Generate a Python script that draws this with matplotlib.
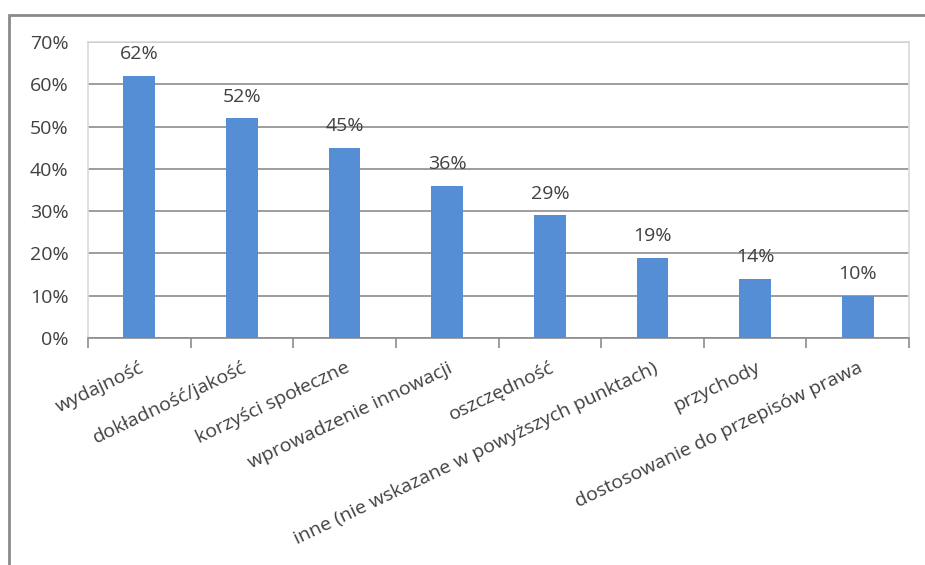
import matplotlib.pyplot as plt
from matplotlib.patches import Rectangle
import numpy as np

categories = ["wydajność", "dokładność/jakość", "korzyści społeczne",
              "wprowadzenie innowacji", "oszczędność",
              "inne (nie wskazane w powyższych punktach)", "przychody",
              "dostosowanie do przepisów prawa"]
values = [62, 52, 45, 36, 29, 19, 14, 10]
yticks = [0, 10, 20, 30, 40, 50, 60, 70]

plt.rcParams['font.family'] = ['Open Sans', 'DejaVu Sans']
text_color = '#404040'
fs = 14

fig = plt.figure(figsize=(9.25, 5.65), dpi=100)
ax = fig.add_axes([88 / 925, 1 - 338 / 565, 821 / 925, 296 / 565])

x = np.arange(len(categories))
bars = ax.bar(x, values, width=0.31, color='#558ed5', zorder=3)

ax.set_xlim(-0.5, len(categories) - 0.5)
ax.set_ylim(0, 70)
ax.set_yticks(yticks)
ax.set_yticklabels([str(v) + '%' for v in yticks], fontsize=fs, color=text_color)
ax.tick_params(axis='y', length=0, pad=14)
ax.yaxis.grid(True, color='#8c8c8c', linewidth=1.2, zorder=0)

# category boundaries get the tick marks
ax.set_xticks(np.arange(len(categories) + 1) - 0.5)
ax.set_xticklabels([])
ax.tick_params(axis='x', length=7, width=1.2, color='#8c8c8c')
ax.set_xticks(x, minor=True)
ax.set_xticklabels(categories, minor=True, rotation=25.5, ha='right',
                   rotation_mode='anchor', fontsize=fs, color=text_color)
ax.tick_params(axis='x', which='minor', length=0, pad=15)

for side in ['top', 'left', 'right']:
    ax.spines[side].set_color('#d9d9d9')
    ax.spines[side].set_linewidth(1.2)
ax.spines['bottom'].set_color('#8c8c8c')
ax.spines['bottom'].set_linewidth(1.2)

for rect, v in zip(bars, values):
    ax.annotate(str(v) + '%', (rect.get_x() + rect.get_width() / 2, v),
                xytext=(0, 15.5), textcoords='offset points', ha='center',
                va='center', fontsize=fs, color=text_color)

# outer chart frame, cut off at the right and bottom
top = 1 - 14.5 / 565
fig.add_artist(Rectangle((8.5 / 925, -0.1), 1.2, top + 0.1,
                         transform=fig.transFigure, fill=False,
                         edgecolor='#8a8a8a', linewidth=2))

fig.savefig('out.png', dpi=100)
